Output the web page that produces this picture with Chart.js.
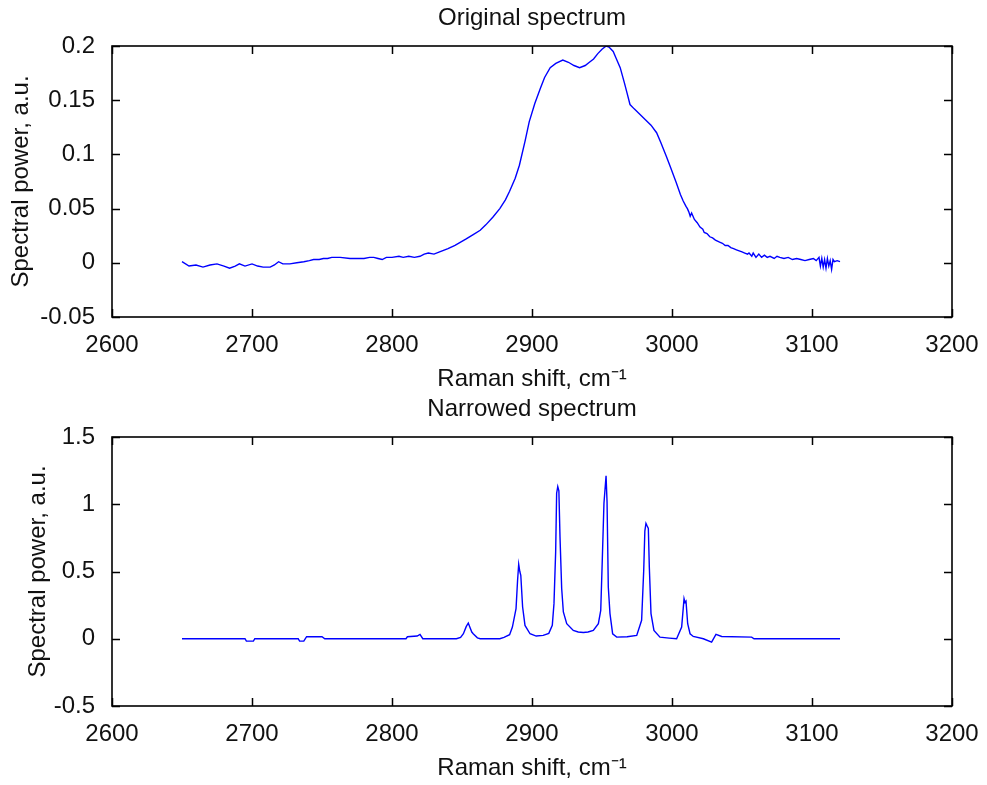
<!DOCTYPE html>
<html>
<head>
<meta charset="utf-8">
<script src="https://cdn.jsdelivr.net/npm/chart.js@4/dist/chart.umd.min.js"></script>
<style>
  html, body { margin: 0; padding: 0; background: #ffffff; }
  body { width: 987px; height: 785px; position: relative; overflow: hidden; }
  .panel { position: absolute; left: 0; width: 987px; }
  #p1 { top: 0; height: 395px; }
  #p2 { top: 395px; height: 390px; }
</style>
</head>
<body>
<div class="panel" id="p1"><canvas id="c1" width="987" height="395"></canvas></div>
<div class="panel" id="p2"><canvas id="c2" width="987" height="390"></canvas></div>
<script>
// ---------- Data ----------
const titleTop = 'Original spectrum';
const titleBottom = 'Narrowed spectrum';
const xAxisTitle = 'Raman shift, cm\u207B\u00B9';
const yAxisTitle = 'Spectral power, a.u.';

const xTicks = [2600, 2700, 2800, 2900, 3000, 3100, 3200];
const xTickLabels = ['2600', '2700', '2800', '2900', '3000', '3100', '3200'];
const yTicksTop = [-0.05, 0, 0.05, 0.1, 0.15, 0.2];
const yTickLabelsTop = ['-0.05', '0', '0.05', '0.1', '0.15', '0.2'];
const yTicksBottom = [-0.5, 0, 0.5, 1, 1.5];
const yTickLabelsBottom = ['-0.5', '0', '0.5', '1', '1.5'];

// Original spectrum (Raman shift, cm-1 / spectral power)
const origShift = [
  2650, 2655, 2660, 2665, 2670, 2675, 2680, 2684, 2688, 2691,
  2695, 2700, 2704, 2708, 2713, 2716, 2719, 2722, 2727, 2732,
  2737, 2741, 2744, 2748, 2751, 2754, 2757, 2763, 2770, 2775,
  2780, 2784, 2787, 2790, 2793, 2796, 2800, 2805, 2808, 2812,
  2816, 2820, 2823, 2826, 2830, 2834, 2840, 2845, 2849, 2853,
  2858, 2863, 2867, 2872, 2877, 2881, 2884, 2888, 2891, 2895,
  2898, 2902, 2906, 2909, 2913, 2917, 2922, 2926, 2930, 2934,
  2938, 2941, 2944, 2947, 2950, 2953, 2955, 2958, 2960, 2963,
  2966, 2968, 2970, 2973, 2977, 2981, 2985, 2989, 2992, 2996,
  2999, 3003, 3006, 3008, 3010, 3011, 3012, 3013, 3014, 3016,
  3018, 3020, 3022, 3023, 3025, 3027, 3029, 3031, 3034, 3036,
  3038, 3040, 3042, 3044, 3046, 3048, 3050, 3052, 3054, 3055,
  3057, 3058, 3060, 3062, 3064, 3066, 3068, 3070, 3073, 3075,
  3077, 3080, 3083, 3086, 3089, 3092, 3095, 3098, 3101, 3103,
  3105, 3106, 3107, 3108, 3109, 3110, 3111, 3112, 3113, 3114,
  3115, 3116, 3118, 3120
];
const origPower = [
  0.001, -0.003, -0.002, -0.004, -0.002, -0.001, -0.003, -0.005, -0.003, -0.001,
  -0.003, -0.001, -0.003, -0.004, -0.004, -0.002, 0.001, -0.001, -0.001, 0.000,
  0.001, 0.002, 0.003, 0.003, 0.004, 0.004, 0.005, 0.005, 0.004, 0.004,
  0.004, 0.005, 0.005, 0.004, 0.003, 0.005, 0.005, 0.006, 0.005, 0.006,
  0.005, 0.006, 0.008, 0.009, 0.008, 0.010, 0.013, 0.016, 0.019, 0.022,
  0.026, 0.030, 0.035, 0.042, 0.050, 0.058, 0.066, 0.078, 0.090, 0.112,
  0.130, 0.147, 0.161, 0.171, 0.180, 0.184, 0.187, 0.185, 0.182, 0.180,
  0.182, 0.185, 0.188, 0.193, 0.197, 0.200, 0.199, 0.195, 0.189, 0.180,
  0.166, 0.156, 0.146, 0.142, 0.137, 0.132, 0.127, 0.120, 0.111, 0.098,
  0.088, 0.074, 0.063, 0.057, 0.052, 0.050, 0.047, 0.043, 0.046, 0.040,
  0.037, 0.033, 0.031, 0.028, 0.027, 0.024, 0.023, 0.021, 0.019, 0.018,
  0.016, 0.016, 0.014, 0.013, 0.012, 0.011, 0.010, 0.009, 0.008, 0.009,
  0.006, 0.009, 0.005, 0.008, 0.005, 0.007, 0.005, 0.006, 0.004, 0.006,
  0.005, 0.004, 0.005, 0.003, 0.004, 0.003, 0.002, 0.003, 0.004, 0.002,
  0.005, -0.003, 0.004, -0.004, 0.003, -0.005, 0.004, -0.003, 0.002, -0.006,
  0.003, 0.001, 0.002, 0.001
];

// Narrowed spectrum
const narrShift = [
  2650, 2695, 2696, 2701, 2702, 2733, 2734, 2737, 2739, 2750,
  2752, 2810, 2811, 2818, 2820, 2822, 2846, 2849, 2851, 2853,
  2854.5, 2855.5, 2857, 2858, 2861, 2863, 2877, 2880, 2884, 2886,
  2888.6, 2889.7, 2890.5, 2891.3, 2892, 2893.3, 2895, 2898.6, 2903, 2908,
  2912, 2914.5, 2915.7, 2916.9, 2917.6, 2918.4, 2919.2, 2920, 2921.2, 2922.4,
  2924.8, 2929.5, 2933, 2936.7, 2940, 2943.8, 2947.4, 2949.1, 2950.2, 2951.4,
  2952.9, 2953.6, 2954.5, 2955.7, 2957.6, 2960.5, 2968, 2974.8, 2978.3, 2979.8,
  2980.6, 2981.4, 2982.2, 2983.1, 2983.8, 2985, 2987.1, 2991.4, 2998, 3003.3,
  3006.9, 3008.6, 3009.3, 3010, 3011.2, 3012.9, 3015.2, 3022.4, 3028.3, 3031.4,
  3035.5, 3056.9, 3058.6, 3120
];
const narrPower = [
  0, 0, -0.018, -0.018, 0, 0, -0.018, -0.018, 0.015, 0.015,
  0, 0, 0.015, 0.02, 0.032, 0, 0, 0.01, 0.037, 0.09,
  0.117, 0.09, 0.05, 0.037, 0.007, 0, 0, 0.01, 0.03, 0.087,
  0.224, 0.435, 0.554, 0.5, 0.472, 0.236, 0.099, 0.037, 0.02, 0.025,
  0.04, 0.1, 0.261, 0.646, 1.082, 1.131, 1.1, 0.758, 0.373, 0.199,
  0.112, 0.062, 0.05, 0.047, 0.05, 0.062, 0.112, 0.211, 0.584, 1.007,
  1.211, 1.02, 0.385, 0.187, 0.037, 0.012, 0.015, 0.025, 0.137, 0.51,
  0.80, 0.858, 0.84, 0.821, 0.534, 0.187, 0.062, 0.012, 0.005, 0,
  0.087, 0.298, 0.27, 0.28, 0.112, 0.037, 0.017, 0, -0.025, 0.032,
  0.017, 0.012, 0, 0
];

// ---------- Chart setup ----------
const FONT = "'Liberation Sans', Arial, Helvetica, sans-serif";
const TEXT_COLOR = '#111111';
const LINE_COLOR = '#0000ff';

// frame + inward tick marks (MATLAB style)
const framePlugin = {
  id: 'frame',
  afterDraw(chart) {
    const ctx = chart.ctx;
    const a = chart.chartArea;
    const xs = chart.scales.x, ys = chart.scales.y;
    const tl = 8;
    ctx.save();
    ctx.strokeStyle = '#000000';
    ctx.lineWidth = 1.5;
    ctx.beginPath();
    xs.ticks.forEach(t => {
      const px = Math.round(xs.getPixelForValue(t.value)) + 0.5;
      ctx.moveTo(px, a.bottom); ctx.lineTo(px, a.bottom - tl);
      ctx.moveTo(px, a.top); ctx.lineTo(px, a.top + tl);
    });
    ys.ticks.forEach(t => {
      const py = Math.round(ys.getPixelForValue(t.value)) + 0.5;
      ctx.moveTo(a.left, py); ctx.lineTo(a.left + tl, py);
      ctx.moveTo(a.right, py); ctx.lineTo(a.right - tl, py);
    });
    ctx.stroke();
    ctx.lineWidth = 1.6;
    ctx.strokeRect(a.left, a.top, a.right - a.left, a.bottom - a.top);
    ctx.restore();
  }
};

function makeChart(canvasId, cfg) {
  const pts = cfg.xs.map((x, i) => ({ x: x, y: cfg.ys[i] }));
  return new Chart(document.getElementById(canvasId), {
    type: 'line',
    data: {
      datasets: [{
        data: pts,
        borderColor: LINE_COLOR,
        borderWidth: 1.4,
        pointRadius: 0,
        tension: 0,
        fill: false
      }]
    },
    options: {
      responsive: false,
      animation: false,
      devicePixelRatio: 1,
      layout: { padding: { left: 0, right: 35, top: 0, bottom: 0 } },
      plugins: {
        legend: { display: false },
        tooltip: { enabled: false },
        title: {
          display: true,
          text: cfg.title,
          fullSize: false,
          color: TEXT_COLOR,
          font: { family: FONT, size: 24, weight: 'normal', lineHeight: 1.2 },
          padding: { top: cfg.titlePadTop, bottom: cfg.titlePadBottom }
        }
      },
      scales: {
        x: {
          type: 'linear',
          min: 2600, max: 3200,
          grid: { display: false },
          border: { display: false },
          afterBuildTicks(scale) { scale.ticks = xTicks.map(v => ({ value: v })); },
          afterFit(scale) { scale.height = cfg.xHeight; },
          ticks: {
            color: TEXT_COLOR,
            padding: cfg.xTickPad,
            maxRotation: 0,
            autoSkip: false,
            font: { family: FONT, size: 24, lineHeight: 1.2 },
            callback: (v) => xTickLabels[xTicks.indexOf(v)]
          },
          title: {
            display: true,
            text: xAxisTitle,
            color: TEXT_COLOR,
            font: { family: FONT, size: 24, lineHeight: 1.2 },
            padding: { top: 0, bottom: cfg.xTitlePadBottom }
          }
        },
        y: {
          type: 'linear',
          min: cfg.yMin, max: cfg.yMax,
          grid: { display: false },
          border: { display: false },
          afterBuildTicks(scale) { scale.ticks = cfg.yTicks.map(v => ({ value: v })); },
          afterFit(scale) { scale.width = 112; },
          ticks: {
            color: TEXT_COLOR,
            padding: 9,
            autoSkip: false,
            font: { family: FONT, size: 24, lineHeight: 1.2 },
            callback: (v) => cfg.yTickLabels[cfg.yTicks.indexOf(v)]
          },
          title: {
            display: true,
            text: yAxisTitle,
            color: TEXT_COLOR,
            font: { family: FONT, size: 24, lineHeight: 1.2 },
            padding: { top: cfg.yTitlePad, bottom: 0 }
          }
        }
      }
    },
    plugins: [framePlugin]
  });
}

makeChart('c1', {
  xs: origShift, ys: origPower,
  title: titleTop, titlePadTop: 4, titlePadBottom: 13.2,
  xHeight: 78, xTickPad: 6, xTitlePadBottom: 1.6,
  yMin: -0.05, yMax: 0.2, yTicks: yTicksTop, yTickLabels: yTickLabelsTop,
  yTitlePad: 6.6
});

makeChart('c2', {
  xs: narrShift, ys: narrPower,
  title: titleBottom, titlePadTop: 0, titlePadBottom: 13.2,
  xHeight: 79, xTickPad: 6, xTitlePadBottom: 2.6,
  yMin: -0.5, yMax: 1.5, yTicks: yTicksBottom, yTickLabels: yTickLabelsBottom,
  yTitlePad: 23.6
});
</script>
</body>
</html>
